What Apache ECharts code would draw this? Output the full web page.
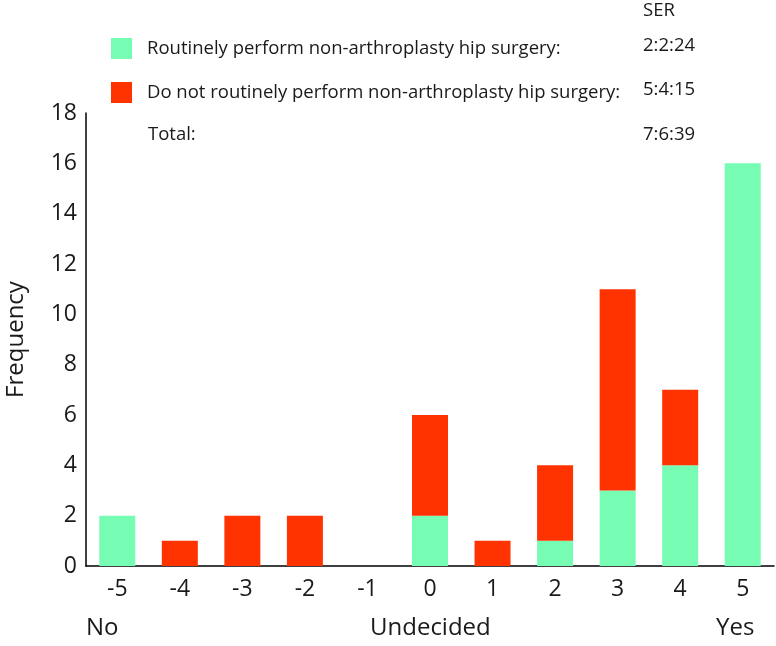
<!DOCTYPE html>
<html><head><meta charset="utf-8">
<script src="https://cdn.jsdelivr.net/npm/echarts@6/dist/echarts.min.js"></script>
<style>html,body{margin:0;padding:0;background:#fff}#c{width:776px;height:646px}</style>
</head><body><div id="c"></div>
<script>
const categories = ['-5','-4','-3','-2','-1','0','1','2','3','4','5'];
const routinely = [2,0,0,0,0,2,0,1,3,4,16];
const notRoutinely = [0,1,2,2,0,4,1,3,8,3,0];
const seriesNames = ['Routinely perform non-arthroplasty hip surgery:', 'Do not routinely perform non-arthroplasty hip surgery:'];
const serHeader = 'SER';
const serValues = ['2:2:24', '5:4:15', '7:6:39'];
const totalLabel = 'Total:';
const yTicks = [0,2,4,6,8,10,12,14,16,18];
const scaleLabels = ['No','Undecided','Yes'];

const FONT = 'Open Sans';
const TXT = '#1a1a1a';
const f = s => s + 'px "' + FONT + '"';
const chart = echarts.init(document.getElementById('c'));
chart.setOption({
  animation: false,
  textStyle: {fontFamily: FONT},
  grid: {left: 86, right: 2, top: 113, bottom: 80, containLabel: false, outerBoundsMode: 'none'},
  legend: {
    orient: 'vertical', left: 111, top: 38, padding: 0, itemWidth: 21, itemHeight: 21, itemGap: 23,
    icon: 'rect', selectedMode: false,
    textStyle: {fontFamily: FONT, fontSize: 18.5, color: TXT, padding: [0,0,0,10]},
    data: seriesNames
  },
  xAxis: {
    type: 'category', data: categories,
    axisLine: {lineStyle: {color: '#000', width: 1.5}},
    axisTick: {show: false},
    axisLabel: {fontFamily: FONT, fontSize: 23, color: TXT, margin: 12}
  },
  yAxis: {
    type: 'value', min: 0, max: 18, interval: 2,
    name: 'Frequency', nameLocation: 'middle', nameGap: 58,
    nameTextStyle: {fontFamily: FONT, fontSize: 24, color: TXT},
    axisLine: {show: true, lineStyle: {color: '#000', width: 1.5}},
    axisTick: {show: false},
    splitLine: {show: false},
    axisLabel: {fontFamily: FONT, fontSize: 23, color: TXT, margin: 9,
      formatter: v => yTicks.includes(v) ? String(v) : ''}
  },
  series: [
    {name: seriesNames[0], type: 'bar', stack: 's', data: routinely, barWidth: 36, itemStyle: {color: '#76FDB3'}},
    {name: seriesNames[1], type: 'bar', stack: 's', data: notRoutinely, barWidth: 36, itemStyle: {color: '#FF3300'}}
  ],
  graphic: [
    {type: 'text', left: 643, top: 1, style: {text: serHeader, font: f(18.5), fill: TXT}},
    {type: 'text', left: 643, top: 36, style: {text: serValues[0], font: f(18.5), fill: TXT}},
    {type: 'text', left: 643, top: 80, style: {text: serValues[1], font: f(18.5), fill: TXT}},
    {type: 'text', left: 643, top: 125, style: {text: serValues[2], font: f(18.5), fill: TXT}},
    {type: 'text', left: 148, top: 125, style: {text: totalLabel, font: f(18.5), fill: TXT}},
    {type: 'text', left: 86, top: 616, style: {text: scaleLabels[0], font: f(24), fill: TXT}},
    {type: 'text', left: 370, top: 616, style: {text: scaleLabels[1], font: f(24), fill: TXT}},
    {type: 'text', left: 716, top: 616, style: {text: scaleLabels[2], font: f(24), fill: TXT}}
  ]
});
</script></body></html>
